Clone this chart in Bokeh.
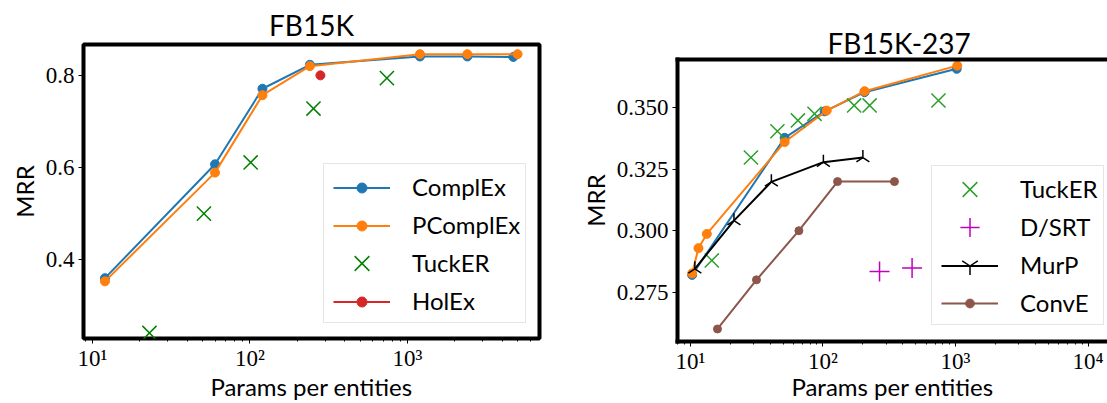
import numpy as np
from bokeh.plotting import figure
from bokeh.layouts import row, column
from bokeh.models import (FixedTicker, CustomJSTickFormatter, PrintfTickFormatter,
                          LinearAxis, Range1d, Legend, LegendItem)
from bokeh.embed import file_html
from bokeh.resources import INLINE

# ---------------- FB15K ----------------
fb_complex_x = [12, 60, 120, 240, 1200, 2400, 4700]
fb_complex_y = [0.360, 0.607, 0.771, 0.823, 0.841, 0.841, 0.840]
fb_pcomplex_x = [12, 60, 120, 240, 1200, 2400, 5000]
fb_pcomplex_y = [0.353, 0.589, 0.757, 0.820, 0.846, 0.846, 0.846]
fb_tucker_x = [23, 51, 101, 253, 740]
fb_tucker_y = [0.241, 0.500, 0.611, 0.728, 0.794]
fb_holex_x = [280]
fb_holex_y = [0.800]

# ---------------- FB15K-237 ----------------
c_complex_x = [10.3, 51.4, 103, 206, 1020]
c_complex_y = [0.2820, 0.3378, 0.3486, 0.3564, 0.3659]
c_pcomplex_x = [10.3, 11.5, 13.3, 51.4, 106.7, 206, 1030]
c_pcomplex_y = [0.2826, 0.2929, 0.2987, 0.3361, 0.3489, 0.3568, 0.3672]
c_tucker_x = [14.5, 28.6, 45.3, 64.7, 86.3, 171.8, 224.8, 743]
c_tucker_y = [0.2879, 0.3298, 0.3405, 0.3449, 0.3476, 0.3510, 0.3510, 0.3530]
c_dsrt_x = [267, 470]
c_dsrt_y = [0.2834, 0.2848]
c_murp_x = [10.8, 21.3, 40.8, 100.7, 200]
c_murp_y = [0.2845, 0.3041, 0.3199, 0.3279, 0.3298]
c_conve_x = [16.0, 31.5, 65.8, 128.8, 346]
c_conve_y = [0.260, 0.280, 0.300, 0.320, 0.320]

fb_yticks = [0.4, 0.6, 0.8]
c_yticks = [0.275, 0.300, 0.325, 0.350]
xticks = [10, 100, 1000, 10000]
xminor = [m * 10 ** k for k in range(0, 5) for m in range(2, 10)]

BLUE = "#1f77b4"
ORANGE = "#ff7f0e"
RED = "#d62728"
BROWN = "#8c564b"
GREEN_DARK = "#008000"
GREEN = "#2ca02c"
MAGENTA = "#bf00bf"

SANS = "Lato"
SERIF = "Liberation Serif"

sup_code = """
const e = Math.round(Math.log10(tick));
const s = {0: "\u2070", 1: "\u00b9", 2: "\u00b2", 3: "\u00b3", 4: "\u2074", 5: "\u2075"};
return "10" + s[e];
"""


def style(p, yticks, yfmt, title_standoff, xlabel_standoff):
    p.background_fill_color = "white"
    p.border_fill_color = "white"
    p.grid.visible = False
    p.title.text_font = SANS
    p.title.text_font_size = "28px"
    p.title.text_font_style = "normal"
    p.title.text_color = "black"
    p.title.align = "center"
    p.title.standoff = title_standoff
    xa = p.below[0]
    ya = p.left[0]
    xa.ticker = FixedTicker(ticks=xticks, minor_ticks=xminor)
    xa.formatter = CustomJSTickFormatter(code=sup_code)
    ya.ticker = FixedTicker(ticks=yticks)
    ya.formatter = PrintfTickFormatter(format=yfmt)
    for ax in (xa, ya):
        ax.major_tick_out = 5
        ax.major_tick_in = 0
        ax.minor_tick_out = 3
        ax.minor_tick_in = 0
        ax.major_tick_line_color = "black"
        ax.minor_tick_line_color = "black"
        ax.major_label_text_font = SERIF
        ax.major_label_text_font_size = "23px"
        ax.major_label_text_color = "black"
        ax.axis_label_text_font = SANS
        ax.axis_label_text_font_size = "24px"
        ax.axis_label_text_font_style = "normal"
        ax.axis_label_text_color = "black"
    xa.major_label_standoff = 2
    ya.major_label_standoff = 4
    ya.axis_label_standoff = 4
    xa.axis_label_standoff = xlabel_standoff
    ya.minor_tick_out = 0
    ya.axis_label = "MRR"
    xa.axis_label = "Params per entities"


ROW_TOP = 136
ROW_PITCH = 38


def make_legend(p, labels, dummy, x, y, glyph_rows):
    main = Legend(items=[LegendItem(label=t, renderers=[dummy]) for t in labels],
                  location=(x, y))
    main.label_text_font = SANS
    main.label_text_font_size = "24px"
    main.label_text_color = "black"
    main.glyph_width = 62
    main.glyph_height = 34
    main.label_height = 34
    main.label_standoff = 21
    main.spacing = ROW_PITCH - 34
    main.padding = 5
    main.margin = 0
    main.border_line_color = "#cccccc"
    main.border_line_width = 1
    main.background_fill_alpha = 0.8
    p.add_layout(main)
    for i, (rends, gh) in enumerate(glyph_rows):
        lg = Legend(items=[LegendItem(label=" ", renderers=rends)],
                    location=(x + 10, y + ROW_TOP - ROW_PITCH * i - gh / 2))
        lg.glyph_width = 57
        lg.glyph_height = gh
        lg.label_height = gh
        lg.label_text_font_size = "1px"
        lg.label_standoff = 0
        lg.padding = 0
        lg.margin = 0
        lg.spacing = 0
        lg.border_line_color = None
        lg.background_fill_alpha = 0
        p.add_layout(lg)


# ---------------- left plot ----------------
p1 = figure(width=560, height=403, x_axis_type="log",
            x_range=Range1d(8.77, 6890), y_range=Range1d(0.229, 0.867),
            output_backend="svg", toolbar_location=None, title="FB15K",
            min_border_left=83, min_border_right=21, min_border_top=44,
            min_border_bottom=64)
p1.outline_line_color = "black"
p1.outline_line_width = 4
p1.xaxis.axis_line_color = None
p1.yaxis.axis_line_color = None

l_cx = p1.line(fb_complex_x, fb_complex_y, color=BLUE, line_width=2)
s_cx = p1.scatter(fb_complex_x, fb_complex_y, color=BLUE, size=9)
l_pcx = p1.line(fb_pcomplex_x, fb_pcomplex_y, color=ORANGE, line_width=2)
s_pcx = p1.scatter(fb_pcomplex_x, fb_pcomplex_y, color=ORANGE, size=9)
s_tk = p1.scatter(fb_tucker_x, fb_tucker_y, marker="x", line_color=GREEN_DARK, size=20,
                  line_width=1.5)
l_hx = p1.line(fb_holex_x, fb_holex_y, color=RED, line_width=2)
s_hx = p1.scatter(fb_holex_x, fb_holex_y, color=RED, size=9)
dummy1 = p1.scatter([], [], fill_alpha=0, line_alpha=0)
style(p1, fb_yticks, "%.1f", 5, -2)
make_legend(p1, ["ComplEx", "PComplEx", "TuckER", "HolEx"], dummy1, 240, 15,
            [([l_cx, s_cx], 25), ([l_pcx, s_pcx], 25), ([s_tk], 52), ([l_hx, s_hx], 25)])

# ---------------- right plot ----------------
p2 = figure(width=547, height=403, x_axis_type="log",
            x_range=Range1d(7.99, 14000), y_range=Range1d(0.2549, 0.3697),
            output_backend="svg", toolbar_location=None, title="FB15K-237",
            min_border_left=117, min_border_right=0, min_border_top=59,
            min_border_bottom=61)
p2.outline_line_color = None
style(p2, c_yticks, "%.3f", 0, -5)
p2.title.align = "left"
p2.title.offset = 150
for ax in (p2.below[0], p2.left[0]):
    ax.axis_line_color = "black"
    ax.axis_line_width = 4
    ax.axis_line_cap = "square"
top = LinearAxis(ticker=FixedTicker(ticks=[]), major_label_text_font_size="0px",
                 major_tick_out=0, major_tick_in=0, minor_tick_out=0, minor_tick_in=0,
                 major_label_standoff=0, axis_line_width=4, axis_line_color="black",
                 axis_line_cap="square")
p2.add_layout(top, "above")

p2.line(c_complex_x, c_complex_y, color=BLUE, line_width=2)
p2.scatter(c_complex_x, c_complex_y, color=BLUE, size=9)
p2.line(c_pcomplex_x, c_pcomplex_y, color=ORANGE, line_width=2)
p2.scatter(c_pcomplex_x, c_pcomplex_y, color=ORANGE, size=9)
r_tk = p2.scatter(c_tucker_x, c_tucker_y, marker="x", line_color=GREEN, size=20,
                  line_width=1.5)
r_ds = p2.scatter(c_dsrt_x, c_dsrt_y, marker="cross", line_color=MAGENTA, size=20,
                  line_width=1.5)
l_mp = p2.line(c_murp_x, c_murp_y, color="black", line_width=2)
s_mp = p2.scatter(c_murp_x, c_murp_y, marker="y", angle=np.pi, line_color="black", size=15,
                  line_width=1.5)
l_ce = p2.line(c_conve_x, c_conve_y, color=BROWN, line_width=2)
s_ce = p2.scatter(c_conve_x, c_conve_y, color=BROWN, size=8)
dummy2 = p2.scatter([], [], fill_alpha=0, line_alpha=0)
make_legend(p2, ["TuckER", "D/SRT", "MurP", "ConvE"], dummy2, 254, 16,
            [([r_tk], 52), ([r_ds], 48), ([l_mp, s_mp], 45), ([l_ce, s_ce], 22)])

layout = row(column(p1), column(p2))
open("out.html", "w").write(file_html(layout, INLINE))
